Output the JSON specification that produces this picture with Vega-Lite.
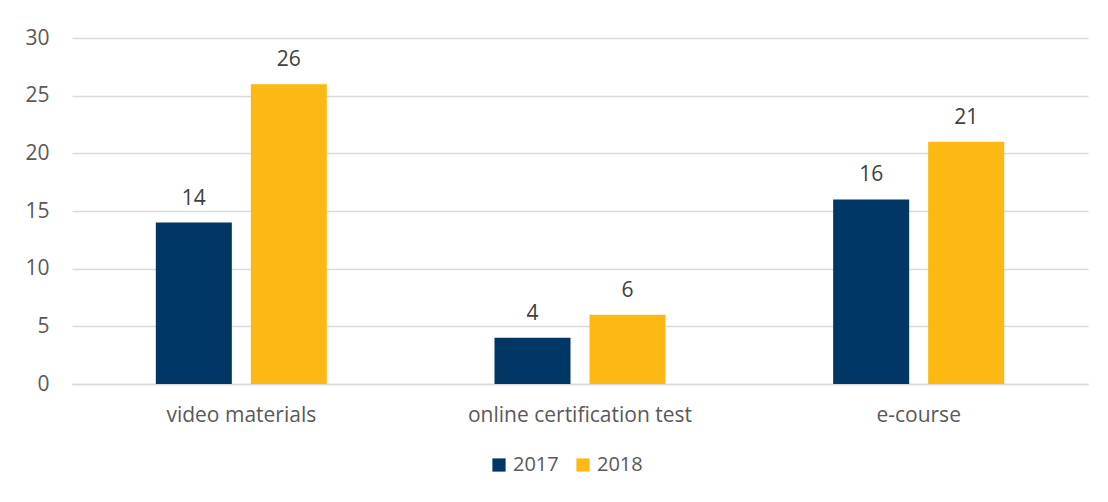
{
  "$schema": "https://vega.github.io/schema/vega-lite/v6.json",
  "autosize": {"type": "none"},
  "padding": {"left": 72, "top": 38, "right": 20, "bottom": 118},
  "width": 1016,
  "height": 346,
  "background": "white",
  "config": {
    "view": {"stroke": null},
    "font": "Open Sans"
  },
  "data": {
    "values": [
      {"category": "video materials", "year": "2017", "value": 14},
      {"category": "video materials", "year": "2018", "value": 26},
      {"category": "online certification test", "year": "2017", "value": 4},
      {"category": "online certification test", "year": "2018", "value": 6},
      {"category": "e-course", "year": "2017", "value": 16},
      {"category": "e-course", "year": "2018", "value": 21}
    ]
  },
  "encoding": {
    "x": {
      "field": "category",
      "type": "nominal",
      "sort": ["video materials", "online certification test", "e-course"],
      "scale": {"paddingInner": 0.495, "paddingOuter": 0.2475},
      "axis": {
        "title": null,
        "labelAngle": 0,
        "labelLimit": 0,
        "ticks": false,
        "domain": true,
        "domainColor": "#d9d9d9",
        "domainWidth": 1.5,
        "labelFont": "Open Sans",
        "labelFontSize": 21,
        "labelColor": "#595959",
        "labelPadding": 20
      }
    },
    "xOffset": {
      "field": "year",
      "type": "nominal",
      "scale": {"paddingInner": 0.2, "paddingOuter": 0}
    },
    "y": {
      "field": "value",
      "type": "quantitative",
      "scale": {"domain": [0, 30]},
      "axis": {
        "title": null,
        "values": [0, 5, 10, 15, 20, 25, 30],
        "ticks": false,
        "domain": false,
        "grid": true,
        "gridColor": "#d9d9d9",
        "gridWidth": 1.5,
        "labelFont": "Open Sans",
        "labelFontSize": 21,
        "labelColor": "#595959",
        "labelPadding": 23
      }
    }
  },
  "layer": [
    {
      "mark": {"type": "bar"},
      "encoding": {
        "color": {
          "field": "year",
          "type": "nominal",
          "scale": {"domain": ["2017", "2018"], "range": ["#003764", "#FDB913"]},
          "legend": {
            "title": null,
            "orient": "none",
            "legendX": 417,
            "legendY": 417,
            "direction": "horizontal",
            "symbolType": "square",
            "symbolSize": 175,
            "symbolStrokeWidth": 0,
            "labelFont": "Open Sans",
            "labelFontSize": 20,
            "labelColor": "#595959",
            "columnPadding": 14,
            "labelOffset": 4
          }
        }
      }
    },
    {
      "mark": {"type": "text", "baseline": "alphabetic", "dy": -18, "font": "Open Sans", "fontSize": 21, "color": "#404040"},
      "encoding": {
        "text": {"field": "value", "type": "quantitative"}
      }
    }
  ]
}
